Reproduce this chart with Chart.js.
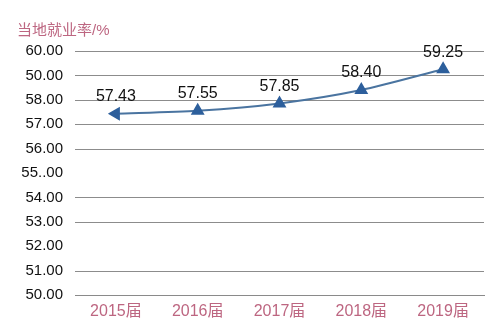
<!DOCTYPE html>
<html>
<head>
<meta charset="utf-8">
<script src="https://cdn.jsdelivr.net/npm/chart.js@4/dist/chart.umd.min.js"></script>
<style>
  html, body { margin: 0; padding: 0; background: #fff; }
  #wrap { width: 496px; height: 333px; }
</style>
</head>
<body>
<div id="wrap"><canvas id="rateChart"></canvas></div>
<script>
const years = ['2015届', '2016届', '2017届', '2018届', '2019届'];
const rates = [57.43, 57.55, 57.85, 58.40, 59.25];
// tick labels as printed in the original (typos kept)
const yTickLabels = ['50.00', '51.00', '52.00', '53.00', '54.00', '55..00', '56.00', '57.00', '58.00', '50.00', '60.00'];
const noGridAt = [52, 55];

const FONT = '"Liberation Sans", Arial, "Noto Sans CJK SC", sans-serif';
const pink = '#bd6681';

// horizontal grid lines, skipping the ones missing in the original
const hGrid = {
    id: 'hGrid',
    beforeDatasetsDraw(chart) {
        const ctx = chart.ctx;
        const y = chart.scales.y;
        const area = chart.chartArea;
        ctx.save();
        ctx.strokeStyle = '#8c8c8c';
        ctx.lineWidth = 1;
        y.ticks.forEach(t => {
            if (noGridAt.includes(Math.round(t.value)) || t.value === y.min) return;
            const py = Math.round(y.getPixelForValue(t.value)) + 0.5;
            ctx.beginPath();
            ctx.moveTo(area.left, py);
            ctx.lineTo(area.right, py);
            ctx.stroke();
        });
        ctx.restore();
    }
};

// Labels above each point
const valueLabels = {
    id: 'valueLabels',
    afterDatasetsDraw(chart) {
        const ctx = chart.ctx;
        const meta = chart.getDatasetMeta(0);
        ctx.save();
        ctx.font = '16px ' + FONT;
        ctx.fillStyle = '#111';
        ctx.textAlign = 'center';
        ctx.textBaseline = 'bottom';
        meta.data.forEach((pt, i) => {
            ctx.fillText(rates[i].toFixed(2), pt.x, pt.y - 9);
        });
        ctx.restore();
    }
};

const ctx = document.getElementById('rateChart').getContext('2d');
new Chart(ctx, {
    type: 'line',
    data: {
        labels: years,
        datasets: [{
            data: rates,
            borderColor: '#4a74a0',
            borderWidth: 2,
            tension: 0.25,
            pointStyle: 'triangle',
            pointRadius: 6,
            pointRotation: [-90, 0, 0, 0, 0],
            pointBackgroundColor: '#2d5f9c',
            pointBorderColor: '#2d5f9c',
            fill: false
        }]
    },
    options: {
        responsive: true,
        maintainAspectRatio: false,
        animation: false,
        layout: {
            padding: { left: 17, right: 12, top: 0, bottom: 0 }
        },
        plugins: {
            legend: { display: false },
            tooltip: { enabled: false },
            title: {
                display: true,
                text: '当地就业率/%',
                align: 'start',
                color: pink,
                font: { family: FONT, size: 15, weight: 'normal' },
                padding: { top: 22, bottom: 11 }
            }
        },
        scales: {
            x: {
                offset: true,
                afterFit: (scale) => { scale.height = 38; },
                grid: { display: false, drawTicks: false },
                border: { display: true, color: '#8a8a8a', width: 1 },
                ticks: {
                    color: pink,
                    font: { family: FONT, size: 16 },
                    padding: 7
                }
            },
            y: {
                min: 50,
                max: 60,
                afterFit: (scale) => { scale.width = 58; },
                border: { display: false },
                grid: { display: false, drawTicks: false },
                ticks: {
                    stepSize: 1,
                    padding: 12,
                    color: '#111',
                    font: { family: FONT, size: 15 },
                    callback: (v) => yTickLabels[v - 50]
                }
            }
        }
    },
    plugins: [hGrid, valueLabels]
});
</script>
</body>
</html>
